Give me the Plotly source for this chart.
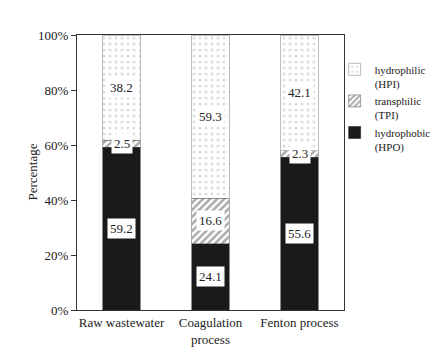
import plotly.graph_objects as go

categories = ["Raw wastewater", "Coagulation<br>process", "Fenton process"]
hpo = [59.2, 24.1, 55.6]
tpi = [2.5, 16.6, 2.3]
hpi = [38.2, 59.3, 42.1]
series_names = ["hydrophobic<br>(HPO)", "transphilic<br>(TPI)", "hydrophilic<br>(HPI)"]
y_ticks = [0, 20, 40, 60, 80, 100]
y_tick_labels = ["0%", "20%", "40%", "60%", "80%", "100%"]

FONT = "Liberation Serif, Times New Roman, serif"

fig = go.Figure()
fig.add_trace(go.Bar(x=categories, y=hpo, name=series_names[0],
                     marker=dict(color="#1a1a1a", line=dict(color="#1a1a1a", width=0.5))))
fig.add_trace(go.Bar(x=categories, y=tpi, name=series_names[1],
                     marker=dict(color="white", line=dict(color="#555", width=0.5),
                                 pattern=dict(shape="/", fgcolor="#555", bgcolor="white", size=5, solidity=0.5))))
fig.add_trace(go.Bar(x=categories, y=hpi, name=series_names[2],
                     marker=dict(color="white", line=dict(color="#777", width=0.5),
                                 pattern=dict(shape=".", fgcolor="#bbb", bgcolor="white", size=6, solidity=0.2))))

# value labels in white boxes at segment midpoints
for i, c in enumerate(categories):
    base = 0
    for vals in (hpo, tpi, hpi):
        v = vals[i]
        fig.add_annotation(x=c, y=base + v / 2, text=f"{v:.1f}", showarrow=False,
                           bgcolor="white", borderpad=2,
                           font=dict(family=FONT, size=13, color="#222"))
        base += v

# y-axis title
fig.add_annotation(x=(32 - 77) / 267, y=0.5, xref="paper", yref="paper",
                   xanchor="center", yanchor="middle",
                   text="Percentage", textangle=-90, showarrow=False,
                   font=dict(family=FONT, size=13, color="#222"))

fig.update_layout(
    barmode="stack",
    bargap=0.58,
    width=438, height=363,
    margin=dict(l=77, r=94, t=35, b=53, autoexpand=False),
    paper_bgcolor="white", plot_bgcolor="white",
    font=dict(family=FONT, size=13, color="#222"),
    showlegend=True,
    legend=dict(x=0.965, y=0.925, xanchor="left", yanchor="top", traceorder="reversed",
                valign="top",
                font=dict(family=FONT, size=11), bgcolor="rgba(0,0,0,0)",
                itemwidth=30, tracegroupgap=8),
)
fig.update_xaxes(showline=True, linecolor="#333", linewidth=1, mirror=True,
                 ticks="", showgrid=False, tickangle=0, automargin=False,
                 tickfont=dict(family=FONT, size=13))
fig.update_yaxes(range=[0, 100], tickvals=y_ticks, ticktext=y_tick_labels,
                 showline=True, linecolor="#333", linewidth=1, mirror=True,
                 ticks="outside", ticklen=5, tickcolor="#333", showgrid=False,
                 automargin=False,
                 tickfont=dict(family=FONT, size=13))

fig.write_html("out.html")
